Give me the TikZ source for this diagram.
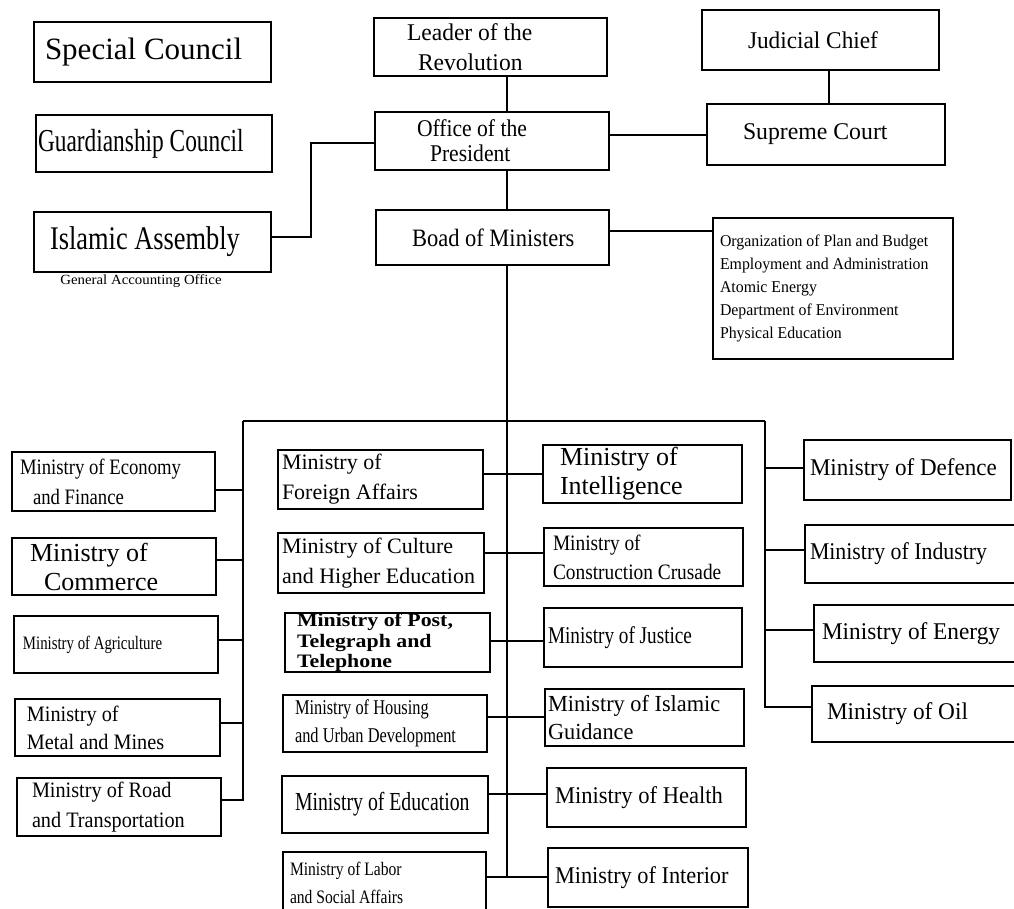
\documentclass[tikz,border=0pt]{standalone}
\usepackage{fontspec}
\setmainfont{Liberation Serif}
\newcommand\fs[3]{\fontsize{#1}{#2}\selectfont\addfontfeature{FakeStretch=#3}}
\tikzset{
  box/.style={draw, rectangle, line width=1.3pt, inner sep=0pt, outer sep=0pt},
  lbl/.style={inner sep=0pt, outer sep=0pt, align=left, anchor=west},
  conn/.style={line width=1.2pt},
  trunk/.style={line width=1.6pt}
}
% name, x1, y1, x2, y2, left pad, label options, label text
\newcommand\mb[8]{%
  \pgfmathsetmacro\mbcx{(#2+#4)/2}%
  \pgfmathsetmacro\mbcy{(#3+#5)/2}%
  \pgfmathsetmacro\mbw{#4-#2}%
  \pgfmathsetmacro\mbh{#5-#3}%
  \node[box, minimum width=\mbw pt, minimum height=\mbh pt] (#1) at (\mbcx,\mbcy) {};
  \node[lbl, #7] (#1-t) at ([xshift=#6pt]#1.west) {#8};}
\begin{document}
\begin{tikzpicture}[x=1pt,y=-1pt]
\useasboundingbox (0,0) rectangle (1014,909);
\begin{scope}
\clip (0,0) rectangle (1014,909);
% top part
\mb{special}{34}{22}{271}{82}{11}{font=\fs{31pt}{36pt}{1.0}}{Special Council}
\mb{guard}{36}{115}{272}{172}{2}{font=\fs{32pt}{36pt}{0.73}}{Guardianship Council}
\mb{islamic}{34}{212}{271}{272}{16}{font=\fs{33pt}{36pt}{0.8}}{Islamic Assembly}
\node[inner sep=0pt, font=\fs{14pt}{16pt}{1.06}] (gao) at (141,281) {General Accounting Office};
\mb{leader}{374}{18}{607}{76}{33}{font=\fs{24pt}{30pt}{0.98}}{Leader of the\\\hspace*{11pt}Revolution}
\mb{office}{375}{112}{609}{170}{42}{font=\fs{24pt}{25pt}{0.9}}{Office of the\\\hspace*{13pt}President}
\mb{boad}{376}{210}{609}{265}{36}{font=\fs{25pt}{28pt}{0.9}}{Boad of Ministers}
\mb{judge}{702}{10}{939}{70}{46}{font=\fs{24pt}{28pt}{0.97}}{Judicial Chief}
\mb{court}{707}{104}{945}{165}{36}{font=\fs{24pt}{28pt}{0.99}}{Supreme Court}
\mb{list}{713}{218}{953}{359}{7}{font=\fs{16.5pt}{23pt}{0.96}}{Organization of Plan and Budget\\Employment and Administration\\Atomic Energy\\Department of Environment\\Physical Education}
% column A
\mb{econ}{12}{452}{215}{511}{8}{font=\fs{22pt}{30pt}{0.85}}{Ministry of Economy\\\hspace*{13pt}and Finance}
\mb{comm}{12}{538}{216}{595}{18}{font=\fs{26pt}{29pt}{1.0}}{Ministry of\\\hspace*{14pt}Commerce}
\mb{agri}{14}{616}{218}{673}{9}{font=\fs{19pt}{22pt}{0.78}}{Ministry of Agriculture}
\mb{metal}{15}{699}{220}{756}{12}{font=\fs{22pt}{28pt}{0.92}}{Ministry of\\Metal and Mines}
\mb{road}{17}{778}{221}{836}{15}{font=\fs{22pt}{30pt}{0.92}}{Ministry of Road\\and Transportation}
% column B
\mb{fa}{278}{450}{483}{509}{4}{font=\fs{22pt}{30pt}{1.0}}{Ministry of\\Foreign Affairs}
\mb{cult}{278}{533}{484}{593}{4}{font=\fs{22pt}{30pt}{1.0}}{Ministry of Culture\\and Higher Education}
\mb{post}{285}{613}{490}{672}{12}{font=\bfseries\fs{19pt}{20.5pt}{1.15}}{Ministry of Post,\\Telegraph and\\Telephone}
\mb{hous}{283}{695}{487}{752}{12}{font=\fs{21pt}{28pt}{0.78}}{Ministry of Housing\\and Urban Development}
\mb{educ}{282}{776}{488}{833}{13}{font=\fs{26pt}{30pt}{0.76}}{Ministry of Education}
\mb{labor}{283}{852}{486}{914}{7}{font=\fs{19pt}{28pt}{0.82}}{Ministry of Labor\\and Social Affairs}
% column C
\mb{intel}{543}{445}{742}{503}{17}{font=\fs{26pt}{29pt}{1.0}}{Ministry of\\Intelligence}
\mb{constr}{544}{528}{743}{586}{9}{font=\fs{22pt}{29pt}{0.88}}{Ministry of\\Construction Crusade}
\mb{just}{544}{608}{742}{667}{4}{font=\fs{24pt}{28pt}{0.8}}{Ministry of Justice}
\mb{guid}{545}{689}{744}{746}{3}{font=\fs{23pt}{28pt}{0.97}}{Ministry of Islamic\\Guidance}
\mb{health}{547}{768}{746}{827}{8}{font=\fs{24pt}{28pt}{0.94}}{Ministry of Health}
\mb{inter}{548}{848}{748}{907}{7}{font=\fs{24pt}{28pt}{0.93}}{Ministry of Interior}
% column D
\mb{def}{804}{440}{1011}{500}{6}{font=\fs{24pt}{28pt}{0.96}}{Ministry of Defence}
\mb{ind}{805}{525}{1022}{583}{5}{font=\fs{24pt}{28pt}{0.91}}{Ministry of Industry}
\mb{ener}{814}{605}{1022}{662}{8}{font=\fs{24pt}{28pt}{0.97}}{Ministry of Energy}
\mb{oil}{812}{686}{1022}{742}{15}{font=\fs{24pt}{28pt}{0.97}}{Ministry of Oil}
% junction coordinates
\coordinate (mx) at (507,0);
\coordinate (jx) at (829,0);
\coordinate (iaj) at (311,143);
\coordinate (busL) at (243,421);
\coordinate (busR) at (765,421);
\coordinate (mbot) at (507,877);
% top connectors
\draw[trunk] (leader.south -| mx) -- (office.north -| mx);
\draw[trunk] (office.south -| mx) -- (boad.north -| mx);
\draw[conn] (judge.south -| jx) -- (court.north -| jx);
\draw[conn] (office.east |- 0,135) -- (court.west |- 0,135);
\draw[conn] (islamic.east |- 0,237) -| (iaj) -- (office.west |- iaj);
\draw[conn] (boad.east |- 0,231) -- (list.west |- 0,231);
% trunk and buses
\draw[trunk] (boad.south -| mx) -- (mbot);
\draw[conn] (busL) -- (busR);
\draw[conn] (busL) -- (busL |- 0,800) -- (road.east |- 0,800);
\draw[conn] (busR) -- (busR |- 0,707) -- (oil.west |- 0,707);
% column A
\draw[conn] (econ.east |- 0,490) -- (busL |- 0,490);
\draw[conn] (comm.east |- 0,560) -- (busL |- 0,560);
\draw[conn] (agri.east |- 0,640) -- (busL |- 0,640);
\draw[conn] (metal.east |- 0,723) -- (busL |- 0,723);
% columns B -- C
\draw[conn] (fa.east |- 0,474) -- (intel.west |- 0,474);
\draw[conn] (cult.east |- 0,553) -- (constr.west |- 0,553);
\draw[conn] (post.east |- 0,641) -- (just.west |- 0,641);
\draw[conn] (hous.east |- 0,717) -- (guid.west |- 0,717);
\draw[conn] (educ.east |- 0,794) -- (health.west |- 0,794);
\draw[conn] (labor.east |- mbot) -- (inter.west |- mbot);
% column D
\draw[conn] (busR |- 0,468) -- (def.west |- 0,468);
\draw[conn] (busR |- 0,550) -- (ind.west |- 0,550);
\draw[conn] (busR |- 0,630) -- (ener.west |- 0,630);
\end{scope}
\end{tikzpicture}
\end{document}
